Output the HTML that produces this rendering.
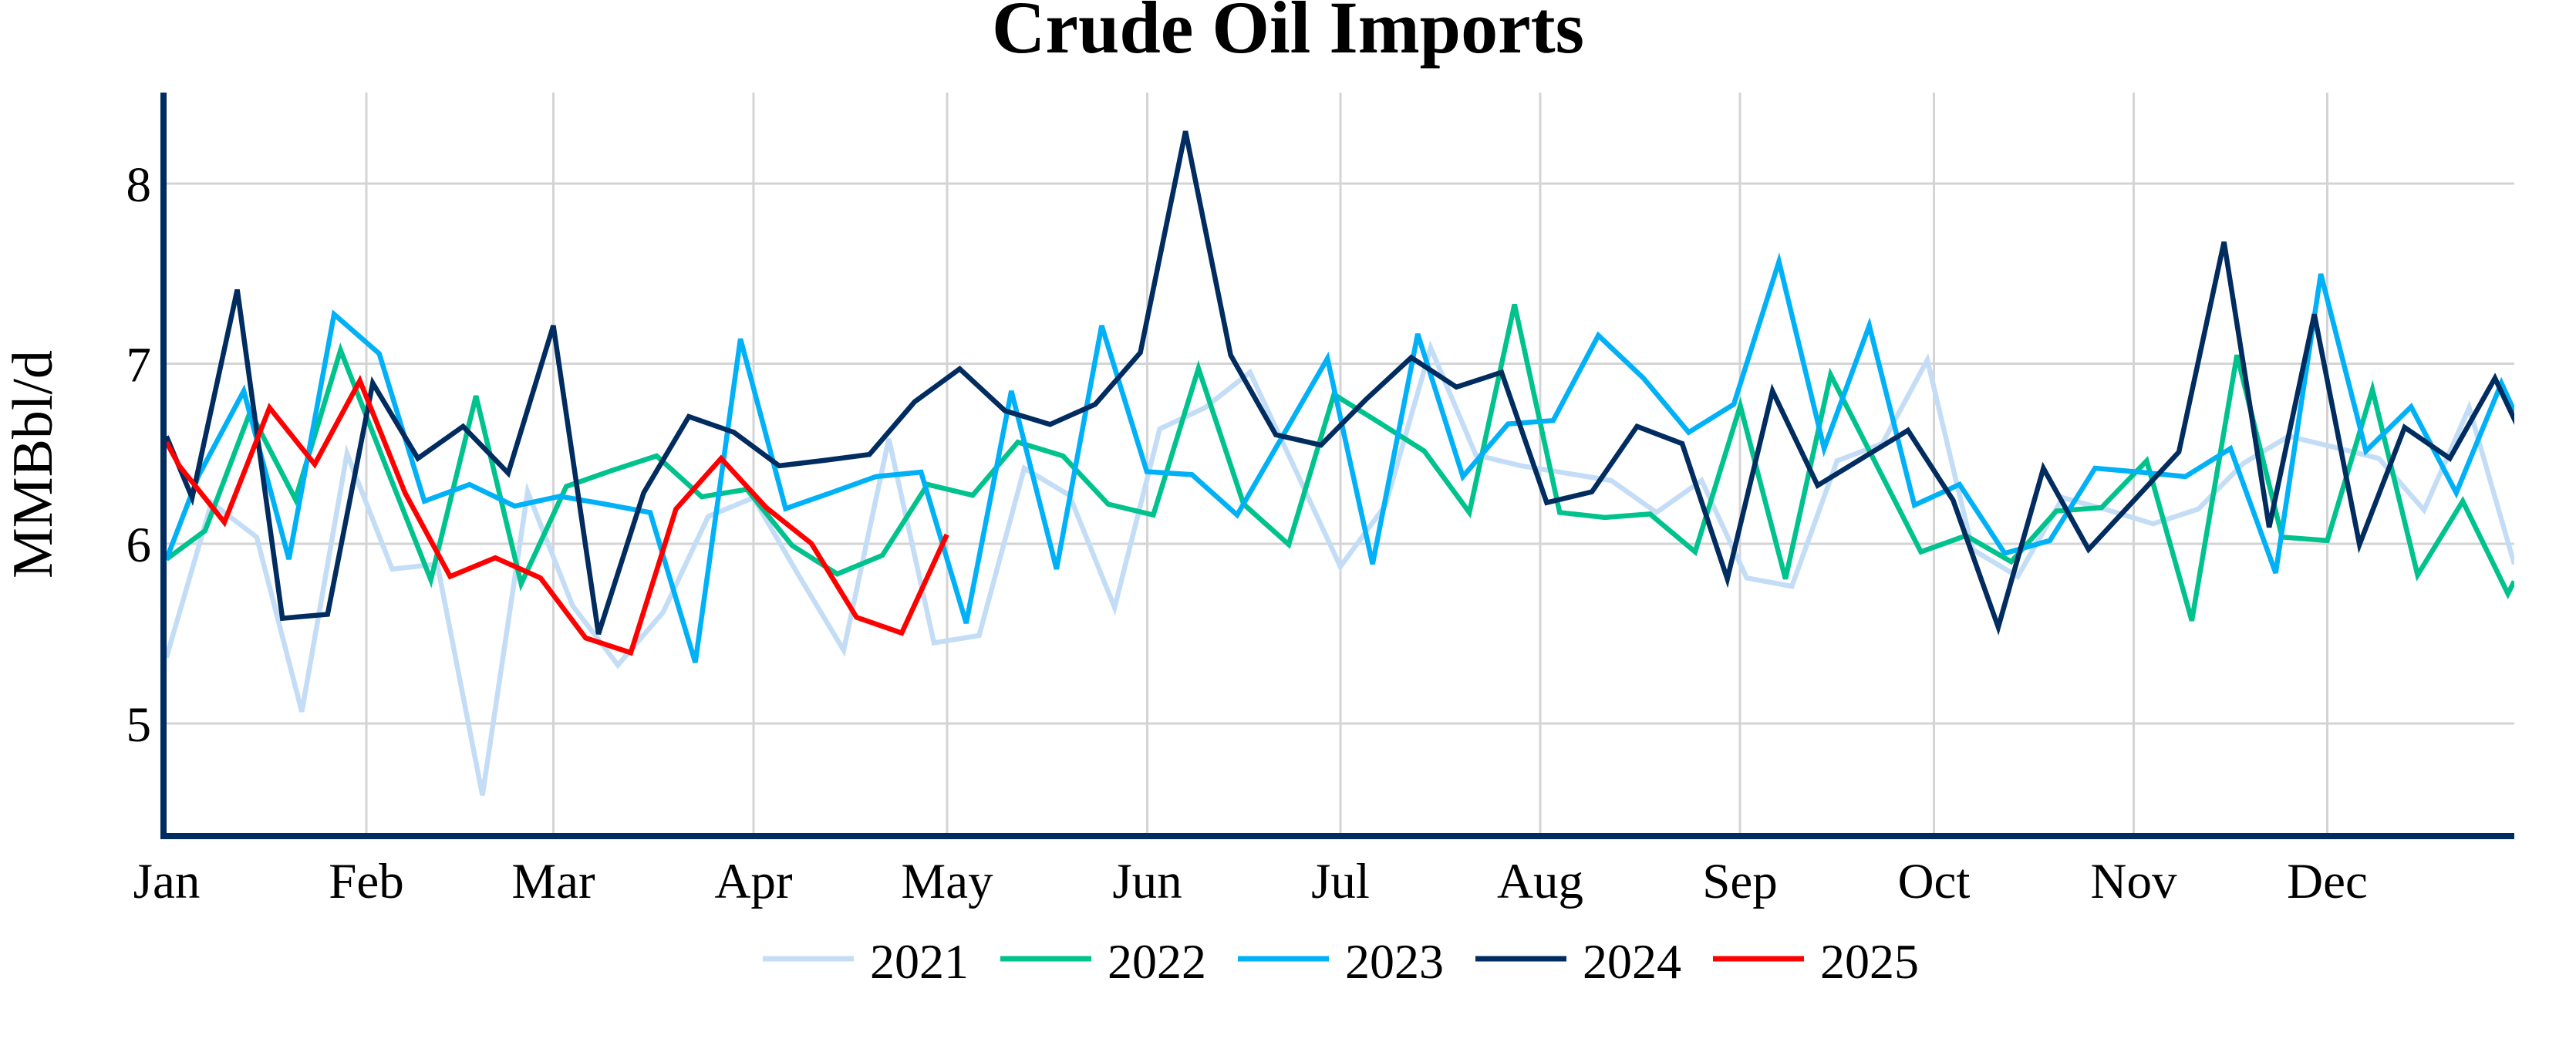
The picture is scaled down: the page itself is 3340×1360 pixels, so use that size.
<!DOCTYPE html>
<html>
<head>
<meta charset="utf-8">
<style>
  html, body { margin: 0; padding: 0; background: #ffffff; }
  body { width: 3340px; height: 1360px; overflow: hidden; }
  svg { display: block; }
  text { font-family: "Liberation Serif", "Times New Roman", serif; fill: #000; }
</style>
</head>
<body>
<svg width="3340" height="1360" viewBox="0 0 3340 1360" xmlns="http://www.w3.org/2000/svg">
  <rect x="0" y="0" width="3340" height="1360" fill="#ffffff"/>

  <!-- Title -->
  <text x="1670" y="68" text-anchor="middle" font-size="96" font-weight="bold">Crude Oil Imports</text>

  <!-- Gridlines -->
  <g stroke="#d4d4d4" stroke-width="3" fill="none">
    <line x1="216" y1="238" x2="3260" y2="238"/>
    <line x1="216" y1="471.5" x2="3260" y2="471.5"/>
    <line x1="216" y1="705" x2="3260" y2="705"/>
    <line x1="216" y1="938" x2="3260" y2="938"/>
    <line x1="475" y1="120" x2="475" y2="1080"/>
    <line x1="717.5" y1="120" x2="717.5" y2="1080"/>
    <line x1="977" y1="120" x2="977" y2="1080"/>
    <line x1="1228" y1="120" x2="1228" y2="1080"/>
    <line x1="1487.5" y1="120" x2="1487.5" y2="1080"/>
    <line x1="1738" y1="120" x2="1738" y2="1080"/>
    <line x1="1997" y1="120" x2="1997" y2="1080"/>
    <line x1="2256" y1="120" x2="2256" y2="1080"/>
    <line x1="2507.5" y1="120" x2="2507.5" y2="1080"/>
    <line x1="2766.5" y1="120" x2="2766.5" y2="1080"/>
    <line x1="3017.5" y1="120" x2="3017.5" y2="1080"/>
  </g>

  <defs>
    <clipPath id="plotclip">
      <rect x="216" y="120" width="3044" height="960"/>
    </clipPath>
  </defs>

  <!-- Series -->
  <g clip-path="url(#plotclip)" fill="none" stroke-linejoin="miter" stroke-miterlimit="4">
    <!-- 2021 -->
    <polyline transform="translate(215.7,100) scale(58.545,0.6378)" vector-effect="non-scaling-stroke"
      stroke="#c4ddf6" stroke-width="6.5"
      points="0,1180 1,865 2,935 3,1290 4,765 5,1000 6,990 7,1460 8,843 9,1075 10,1195 11,1088 12,893 13,855 14,1012 15,1165 16,735 17,1150 18,1135 19,795 20,850 21,1078 22,715 23,672 24,600 25,797 26,995 27,870 28,550 29,768 30,790 31,805 32,820 33,885 34,820 35,1018 36,1035 37,780 38,745 39,575 40,960 41,1015 42,855 43,880 44,908 45,878 46,785 47,730 48,752 49,775 50,880 51,672 52,990"/>
    <!-- 2022 -->
    <polyline transform="translate(265.9,100) scale(58.545,0.6378)" vector-effect="non-scaling-stroke"
      stroke="#00c28d" stroke-width="6.5"
      points="-0.856,980 0,922 1,680 2,858 3,555 4,790 5,1022 6,648 7,1030 8,832 9,800 10,770 11,853 12,838 13,952 14,1010 15,972 16,828 17,850 18,742 19,770 20,868 21,890 22,592 23,868 24,950 25,645 26,702 27,760 28,885 29,462 30,885 31,895 32,888 33,965 34,668 35,1020 36,605 37,785 38,965 39,932 40,985 41,882 42,875 43,780 44,1105 45,565 46,935 47,942 48,635 49,1012 50,862 51,1050 51.14,1025"/>
    <!-- 2023 -->
    <polyline transform="translate(257.5,100) scale(58.545,0.6378)" vector-effect="non-scaling-stroke"
      stroke="#00b1f7" stroke-width="6.5"
      points="-0.712,980 0,810 1,638 2,980 3,482 4,562 5,862 6,828 7,872 8,852 9,868 10,885 11,1190 12,532 13,877 14,845 15,812 16,803 17,1110 18,638 19,1000 20,505 21,802 22,808 23,890 24,731 25,572 26,990 27,522 28,812 29,705 30,698 31,525 32,612 33,722 34,665 35,375 36,755 37,505 38,870 39,828 40,968 41,942 42,795 43,803 44,812 45,755 46,1008 47,400 48,760 49,670 50,845 51,622 51.29,680"/>
    <!-- 2024 -->
    <polyline transform="translate(249.1,100) scale(58.545,0.6378)" vector-effect="non-scaling-stroke"
      stroke="#002c5f" stroke-width="6.5"
      points="-0.569,730 0,855 1,432 2,1100 3,1092 4,622 5,775 6,710 7,805 8,505 9,1132 10,845 11,690 12,722 13,790 14,779 15,767 16,660 17,593 18,678 19,706 20,665 21,560 22,110 23,565 24,727 25,748 26,655 27,570 28,630 29,600 30,865 31,843 32,710 33,745 34,1020 35,638 36,830 37,774 38,718 39,860 40,1118 41,795 42,960 43,861 44,762 45,335 46,915 47,482 48,950 49,712 50,775 51,612 52,806"/>
    <!-- 2025 -->
    <polyline transform="translate(232.4,100) scale(58.545,0.6378)" vector-effect="non-scaling-stroke"
      stroke="#ff0000" stroke-width="6.5"
      points="-0.284,742 0,790 1,905 2,672 3,787 4,617 5,845 6,1015 7,977 8,1018 9,1140 10,1170 11,878 12,775 13,875 14,948 15,1098 16,1130 17,930"/>
  </g>

  <!-- Axes -->
  <g stroke="#002c5f" stroke-width="8" fill="none">
    <line x1="212" y1="120" x2="212" y2="1088"/>
    <line x1="208" y1="1084" x2="3260" y2="1084"/>
  </g>

  <!-- Y tick labels -->
  <g font-size="65" text-anchor="end">
    <text x="196" y="261">8</text>
    <text x="196" y="494.5">7</text>
    <text x="196" y="728">6</text>
    <text x="196" y="961">5</text>
  </g>

  <!-- Y axis title -->
  <text transform="translate(67,602) rotate(-90)" text-anchor="middle" font-size="74">MMBbl/d</text>

  <!-- X tick labels -->
  <g font-size="65" text-anchor="middle">
    <text x="216" y="1164">Jan</text>
    <text x="475" y="1164">Feb</text>
    <text x="717.5" y="1164">Mar</text>
    <text x="977" y="1164">Apr</text>
    <text x="1228" y="1164">May</text>
    <text x="1487.5" y="1164">Jun</text>
    <text x="1738" y="1164">Jul</text>
    <text x="1997" y="1164">Aug</text>
    <text x="2256" y="1164">Sep</text>
    <text x="2507.5" y="1164">Oct</text>
    <text x="2766.5" y="1164">Nov</text>
    <text x="3017.5" y="1164">Dec</text>
  </g>

  <!-- Legend -->
  <g stroke-width="7" fill="none">
    <line x1="989" y1="1243" x2="1107" y2="1243" stroke="#c4ddf6"/>
    <line x1="1297" y1="1243" x2="1415" y2="1243" stroke="#00c28d"/>
    <line x1="1605" y1="1243" x2="1723" y2="1243" stroke="#00b1f7"/>
    <line x1="1913" y1="1243" x2="2031" y2="1243" stroke="#002c5f"/>
    <line x1="2221" y1="1243" x2="2339" y2="1243" stroke="#ff0000"/>
  </g>
  <g font-size="64">
    <text x="1128" y="1268">2021</text>
    <text x="1436" y="1268">2022</text>
    <text x="1744" y="1268">2023</text>
    <text x="2052" y="1268">2024</text>
    <text x="2360" y="1268">2025</text>
  </g>
</svg>
</body>
</html>
